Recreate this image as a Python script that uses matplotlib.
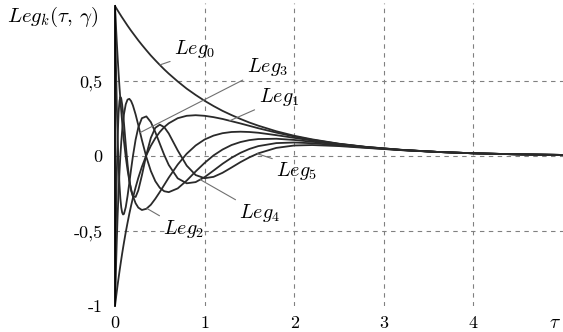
import matplotlib
matplotlib.use('Agg')
import matplotlib.pyplot as plt

# шрифт в стиле TeX
plt.rcParams['mathtext.fontset'] = 'cm'
plt.rcParams['axes.unicode_minus'] = False

# значения
tau = [0, 0.01, 0.02, 0.03, 0.04, 0.05, 0.06, 0.07, 0.08, 0.09, 0.10, 0.12, 0.14,
       0.16, 0.18, 0.20, 0.23, 0.26, 0.30, 0.35, 0.40, 0.45, 0.50, 0.55, 0.60,
       0.70, 0.80, 0.90, 1.0, 1.1, 1.2, 1.3, 1.4, 1.5, 1.6, 1.8, 2.0, 2.2, 2.5,
       2.8, 3.2, 3.6, 4.0, 4.5, 5.0]

leg0 = [1.0, 0.990, 0.980, 0.970, 0.961, 0.951, 0.942, 0.932, 0.923, 0.914, 0.905,
        0.887, 0.869, 0.852, 0.835, 0.819, 0.795, 0.771, 0.741, 0.705, 0.670, 0.638,
        0.607, 0.577, 0.549, 0.497, 0.449, 0.407, 0.368, 0.333, 0.301, 0.273, 0.247,
        0.223, 0.202, 0.165, 0.135, 0.111, 0.082, 0.061, 0.041, 0.027, 0.018, 0.011,
        0.007]
leg1 = [-1.0, -0.951, -0.903, -0.857, -0.813, -0.770, -0.729, -0.689, -0.650, -0.613,
        -0.577, -0.508, -0.445, -0.385, -0.330, -0.279, -0.209, -0.146, -0.072, 0.005,
        0.068, 0.119, 0.160, 0.193, 0.218, 0.252, 0.268, 0.272, 0.268, 0.259, 0.247,
        0.232, 0.217, 0.201, 0.185, 0.156, 0.130, 0.108, 0.081, 0.060, 0.041, 0.027,
        0.018, 0.011, 0.007]
leg2 = [1.0, 0.875, 0.759, 0.651, 0.552, 0.460, 0.375, 0.297, 0.225, 0.159, 0.099,
        -0.006, -0.093, -0.165, -0.222, -0.267, -0.315, -0.344, -0.360, -0.352,
        -0.325, -0.285, -0.240, -0.192, -0.144, -0.057, 0.015, 0.070, 0.110, 0.136,
        0.152, 0.160, 0.162, 0.160, 0.155, 0.139, 0.121, 0.103, 0.079, 0.060, 0.040,
        0.027, 0.018, 0.011, 0.007]
leg3 = [-1.0, -0.766, -0.563, -0.387, -0.236, -0.107, 0.002, 0.094, 0.169, 0.230,
        0.279, 0.345, 0.376, 0.381, 0.366, 0.337, 0.277, 0.206, 0.107, -0.007, -0.100,
        -0.168, -0.212, -0.235, -0.241, -0.216, -0.164, -0.103, -0.046, 0.004, 0.043,
        0.073, 0.093, 0.106, 0.113, 0.115, 0.107, 0.095, 0.076, 0.058, 0.040, 0.027,
        0.018, 0.011, 0.007]
leg4 = [1.0, 0.632, 0.339, 0.110, -0.064, -0.193, -0.284, -0.344, -0.377, -0.390,
        -0.386, -0.341, -0.267, -0.178, -0.087, -0.001, 0.109, 0.190, 0.252, 0.264,
        0.226, 0.159, 0.082, 0.006, -0.060, -0.149, -0.182, -0.174, -0.141, -0.097,
        -0.052, -0.012, 0.021, 0.047, 0.066, 0.086, 0.090, 0.085, 0.071, 0.056, 0.039,
        0.027, 0.018, 0.011, 0.007]
leg5 = [-1.0, -0.479, -0.112, 0.134, 0.287, 0.367, 0.394, 0.382, 0.343, 0.286, 0.219,
        0.076, -0.055, -0.160, -0.231, -0.269, -0.273, -0.229, -0.130, 0.009, 0.121,
        0.188, 0.209, 0.192, 0.150, 0.037, -0.064, -0.127, -0.148, -0.139, -0.112,
        -0.077, -0.041, -0.009, 0.018, 0.054, 0.070, 0.073, 0.066, 0.054, 0.039,
        0.027, 0.018, 0.011, 0.007]

x_ticks = [0, 1, 2, 3, 4]
x_labels = ['0', '1', '2', '3', '4']
y_ticks = [-1, -0.5, 0, 0.5]
y_labels = ['-1', '-0,5', '0', '0,5']
grid_x = [1, 2, 3, 4]
grid_y = [-0.5, 0, 0.5]

# подписи кривых: текст, точка на кривой, место подписи, угол выноски
labels = [
    (r'$Leg_0$', (0.50, 0.607), (0.89, 0.713), (0, 0)),
    (r'$Leg_3$', (0.28, 0.156), (1.70, 0.593), (0, 0)),
    (r'$Leg_1$', (1.28, 0.235), (1.83, 0.393), (0, 0)),
    (r'$Leg_5$', (1.59, 0.015), (2.03, -0.100), (0, 1)),
    (r'$Leg_4$', (0.95, -0.157), (1.62, -0.380), (0, 1)),
    (r'$Leg_2$', (0.357, -0.350), (0.77, -0.487), (0, 1)),
]

fig = plt.figure(figsize=(5.63, 3.32), dpi=100)
ax = fig.add_axes([115 / 563, 26 / 332, 448 / 563, 303 / 332])

# сетка
for gx in grid_x:
    ax.axvline(gx, color='#808080', lw=0.8, ls=(0, (4, 4)), zorder=0)
for gy in grid_y:
    ax.axhline(gy, color='#808080', lw=0.8, ls=(0, (4, 4)), zorder=0)

# кривые
for leg in [leg0, leg1, leg2, leg3, leg4, leg5]:
    ax.plot(tau, leg, color='#2a2a2a', lw=1.3)

for text, xy, xytext, rel in labels:
    ax.annotate(text, xy=xy, xytext=xytext, fontsize=14.5, ha='center', va='center',
                arrowprops=dict(arrowstyle='-', color='#707070', lw=0.8,
                                shrinkA=1, shrinkB=0, relpos=rel))

ax.set_xlim(0, 5)
ax.set_ylim(-1, 1.02)
for side in ['top', 'right', 'bottom']:
    ax.spines[side].set_visible(False)
ax.spines['left'].set_linewidth(1.3)
ax.spines['left'].set_bounds(-1, 1.0)

ax.set_xticks(x_ticks, x_labels)
ax.set_yticks(y_ticks, y_labels)
ax.tick_params(length=0, labelsize=13)
ax.tick_params(axis='x', pad=7)
ax.tick_params(axis='y', pad=9)
for lab in ax.get_xticklabels() + ax.get_yticklabels():
    lab.set_fontfamily('cmr10')

fig.text(53 / 563, 1 - 17 / 332, r'$Leg_k(\tau,\,\gamma)$', fontsize=15,
         ha='center', va='center')
fig.text(555 / 563, 1 - 322 / 332, r'$\tau$', fontsize=14, ha='center', va='center')

plt.savefig('out.png', dpi=100)
